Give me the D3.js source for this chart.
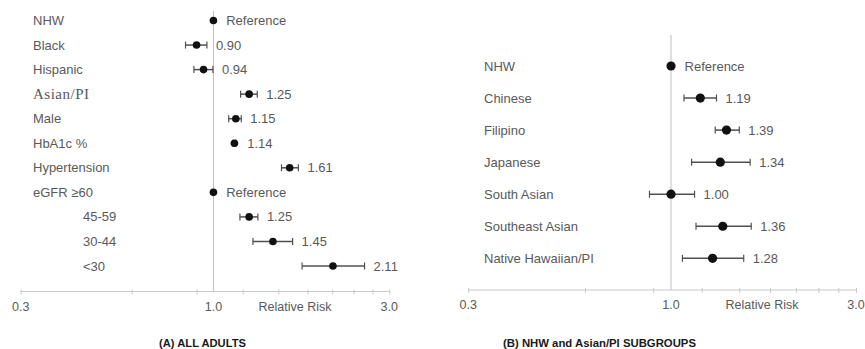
<!DOCTYPE html>
<html>
<head>
<meta charset="utf-8">
<script src="https://cdn.jsdelivr.net/npm/d3@7/dist/d3.min.js"></script>
<style>
  body { margin: 0; background: #fff; }
  text { font-family: "Liberation Sans", Arial, sans-serif; fill: #595959; }
</style>
</head>
<body>
<script>
// panel A: all adults
var labelsA = ["NHW", "Black", "Hispanic", "Asian/PI", "Male", "HbA1c %", "Hypertension", "eGFR \u226560", "45-59", "30-44", "<30"];
var rrA   = [1.00, 0.90, 0.94, 1.25, 1.15, 1.14, 1.61, 1.00, 1.25, 1.45, 2.11];
var lowA  = [1.00, 0.84, 0.885, 1.185, 1.10, 1.13, 1.53, 1.00, 1.18, 1.28, 1.74];
var highA = [1.00, 0.96, 0.997, 1.315, 1.19, 1.15, 1.70, 1.00, 1.32, 1.64, 2.57];
var textA = ["Reference", "0.90", "0.94", "1.25", "1.15", "1.14", "1.61", "Reference", "1.25", "1.45", "2.11"];

// panel B: NHW and Asian/PI subgroups
var labelsB = ["NHW", "Chinese", "Filipino", "Japanese", "South Asian", "Southeast Asian", "Native Hawaiian/PI"];
var rrB   = [1.00, 1.19, 1.39, 1.34, 1.00, 1.36, 1.28];
var lowB  = [1.00, 1.08, 1.30, 1.13, 0.88, 1.16, 1.07];
var highB = [1.00, 1.31, 1.50, 1.60, 1.15, 1.61, 1.54];
var textB = ["Reference", "1.19", "1.39", "1.34", "1.00", "1.36", "1.28"];

var tickVals = [0.3, 0.6, 0.9, 1.2, 1.5, 1.8, 2.1, 2.4, 2.7, 3.0];
var tickLabels = ["0.3", "1.0", "3.0"];

var svg = d3.select("body").append("svg")
  .attr("width", 865)
  .attr("height", 349);

function panel(cfg) {
  var g = svg.append("g");
  var x = d3.scaleLog().domain([0.3, 3.0]).range(cfg.xr);
  var y = d3.scalePoint().domain(d3.range(cfg.labels.length)).range(cfg.yr);

  // reference line at 1.0
  g.append("line")
    .attr("x1", x(1)).attr("x2", x(1))
    .attr("y1", cfg.refTop).attr("y2", cfg.axisY)
    .attr("stroke", "#bfbfbf").attr("stroke-width", 1);

  // axis
  var ax = g.append("g")
    .attr("transform", "translate(0," + cfg.axisY + ")")
    .call(d3.axisBottom(x).tickValues(tickVals).tickSize(3).tickFormat(""));
  ax.select(".domain").attr("stroke", "#c8c8c8").attr("d", "M" + cfg.xr[0] + ",0H" + cfg.xr[1]);
  ax.selectAll(".tick line").attr("stroke", "#c8c8c8").attr("y1", -2);

  ax.selectAll(".lab")
    .data(tickLabels)
    .enter().append("text")
    .attr("x", function(d) { return x(+d); })
    .attr("y", 19)
    .attr("text-anchor", "middle")
    .style("font-size", "12.5px")
    .style("font-family", "'Liberation Sans Narrow', 'Arial Narrow', sans-serif")
    .text(function(d) { return d; });
  ax.append("text")
    .attr("x", cfg.rrX).attr("y", 19)
    .attr("text-anchor", "middle")
    .style("font-size", "12.5px")
    .style("font-family", "'Liberation Sans Narrow', 'Arial Narrow', sans-serif")
    .text("Relative Risk");

  var rows = g.selectAll(".row")
    .data(cfg.labels)
    .enter().append("g")
    .attr("class", "row")
    .attr("transform", function(d, i) { return "translate(0," + y(i) + ")"; });

  rows.append("text")
    .attr("x", function(d, i) { return cfg.indent && cfg.indent[i] ? cfg.indent[i] : cfg.labelX; })
    .attr("dy", "0.35em")
    .style("font-size", "13px")
    .text(function(d) { return d; })
    .filter(function(d) { return d == "Asian/PI"; })
    .style("font-size", "15px")
    .style("font-family", "'Liberation Serif', serif")
    .attr("textLength", 56);

  // error bars
  rows.filter(function(d, i) { return cfg.low[i] != cfg.high[i]; })
    .each(function(d) {
      var i = cfg.labels.indexOf(d);
      var r = d3.select(this);
      var x0 = x(cfg.low[i]), x1 = x(cfg.high[i]);
      r.append("line").attr("x1", x0).attr("x2", x1).attr("stroke", "#505050").attr("stroke-width", 1.5);
      r.append("line").attr("x1", x0).attr("x2", x0).attr("y1", -3.5).attr("y2", 3.5).attr("stroke", "#505050").attr("stroke-width", 1.2);
      r.append("line").attr("x1", x1).attr("x2", x1).attr("y1", -3.5).attr("y2", 3.5).attr("stroke", "#505050").attr("stroke-width", 1.2);
    });

  rows.append("circle")
    .attr("cx", function(d, i) { return x(cfg.rr[i]); })
    .attr("r", cfg.r)
    .attr("fill", "#111");

  rows.append("text")
    .attr("x", function(d, i) { return Math.max(x(cfg.high[i]), x(cfg.rr[i]) + cfg.r) + 9; })
    .attr("dy", "0.35em")
    .style("font-size", "13px")
    .text(function(d, i) { return cfg.text[i]; });

  g.append("text")
    .attr("x", cfg.capX).attr("y", cfg.capY)
    .attr("textLength", cfg.capW)
    .attr("lengthAdjust", "spacingAndGlyphs")
    .style("font-size", "11px")
    .style("font-weight", "bold")
    .style("fill", "#1a1a1a")
    .text(cfg.caption);
}

panel({
  labels: labelsA, rr: rrA, low: lowA, high: highA, text: textA,
  xr: [20.7, 389.3], yr: [20.5, 266], axisY: 291.5, refTop: 11, r: 3.8,
  labelX: 33, indent: [0, 0, 0, 0, 0, 0, 0, 0, 83, 83, 83],
  rrX: 295, capX: 159, capY: 346.5, capW: 87, caption: "(A) ALL ADULTS"
});

panel({
  labels: labelsB, rr: rrB, low: lowB, high: highB, text: textB,
  xr: [468.3, 856], yr: [66, 258.3], axisY: 290, refTop: 35, r: 4.6,
  labelX: 484,
  rrX: 762, capX: 503, capY: 346.5, capW: 193, caption: "(B)  NHW and Asian/PI SUBGROUPS"
});
</script>
</body>
</html>
